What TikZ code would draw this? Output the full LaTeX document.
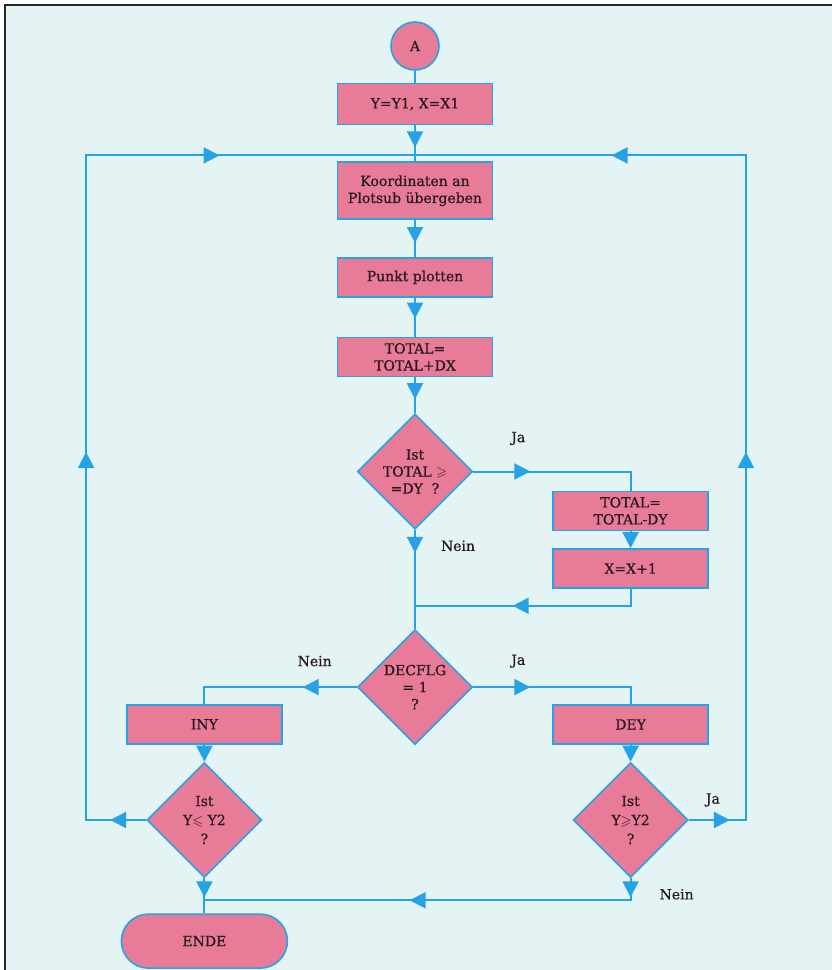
\documentclass[tikz,border=0pt]{standalone}
\usepackage{amsmath,amssymb}
\usepackage{fontspec}
\setmainfont{DejaVu Serif}[FakeBold=0.6]
\usetikzlibrary{arrows.meta,positioning,calc,shapes.geometric,decorations.markings}

\definecolor{paper}{RGB}{228,243,244}
\definecolor{flowblue}{RGB}{38,163,230}
\definecolor{boxpink}{RGB}{232,124,152}
\definecolor{ink}{RGB}{40,25,30}

\begin{document}
\begin{tikzpicture}[
  x=1pt, y=1pt,
  font=\fontsize{14}{17}\selectfont,
  text=ink,
  node distance=36pt,
  box/.style={draw=flowblue, line width=1.6pt, fill=boxpink, align=center, minimum width=155pt, minimum height=39pt, inner sep=2pt},
  test/.style={diamond, draw=flowblue, line width=1.6pt, fill=boxpink, align=center, minimum width=115pt, minimum height=115pt, inner sep=0pt},
  start/.style={circle, draw=flowblue, line width=1.6pt, fill=boxpink, minimum size=48pt, inner sep=0pt},
  term/.style={draw=flowblue, line width=1.6pt, fill=boxpink, rounded corners=27pt, minimum width=166pt, minimum height=54pt},
  line/.style={draw=flowblue, line width=2pt},
  flow/.style={line, postaction={decorate, decoration={markings, mark=at position #1 with {\arrow[flowblue]{Triangle[length=16pt,width=16pt]}}}}},
  endarrow/.style={line, -{Triangle[length=16pt,width=16pt]}},
  lbl/.style={inner sep=1pt}
]
\useasboundingbox (0,0) rectangle (832,-970);
\fill[white] (0,0) rectangle (832,-970);
\fill[paper] (5,-5) rectangle (832,-970);
\draw[black!85, line width=2pt] (5,-970) -- (5,-5) -- (832,-5);

% main column
\node[start] (A) at (415,-46) {A};
\node[box, below=12pt of A, minimum height=41pt] (init) {Y=Y1, X=X1};
\node[box, below=36pt of init, minimum height=57pt] (pass) {Koordinaten an\\Plotsub übergeben};
\node[box, below=37pt of pass] (plot) {Punkt plotten};
\node[box, below=39pt of plot] (addx) {TOTAL=\\TOTAL+DX};
\node[test, below=36pt of addx] (cmp) {Ist\\TOTAL $\geqslant$\\=DY\ \ ?};
\node[box, below right=19pt and 79pt of cmp.east] (suby) {TOTAL=\\TOTAL-DY};
\node[box, below=17pt of suby] (incx) {X=X+1};
\node[test, below=99pt of cmp] (flag) {DECFLG\\= 1\\?};

% branches
\node[box, below left=17pt and 74pt of flag.west] (iny) {INY};
\node[box, below right=17pt and 79pt of flag.east] (dey) {DEY};
\node[test, below=17pt of iny] (lo) {Ist\\[2pt]Y$\leqslant$ Y2\\[2pt]?};
\node[test, below=17pt of dey] (hi) {Ist\\[2pt]Y$\geqslant$Y2\\[2pt]?};
\node[term, below=35pt of lo] (ende) {ENDE};

% junctions and corners
\coordinate[below=30pt of init] (jtop);
\coordinate[below=76pt of cmp] (jmid);
\coordinate[below=22pt of lo] (jbot);
\coordinate[left=60pt of lo] (lbot);
\coordinate[right=57pt of hi] (rbot);
\coordinate (ltop) at (lbot |- jtop);
\coordinate (rtop) at (rbot |- jtop);

\draw[line] (A) -- (init);
\draw[flow=22pt] (init) -- (pass);
\draw[flow=23pt] (pass) -- (plot);
\draw[flow=21pt] (plot) -- (addx);
\draw[flow=22pt] (addx) -- (cmp);
\draw[flow=57pt] (cmp.east) -| (suby);
\draw[endarrow] (suby) -- (incx);
\draw[flow=135pt] (incx) |- (jmid);
\draw[flow=23pt] (cmp) -- (flag);
\draw[flow=54pt] (flag.west) -| (iny);
\draw[flow=57pt] (flag.east) -| (dey);
\draw[endarrow] (iny) -- (lo);
\draw[endarrow] (dey) -- (hi);
\draw[flow=19pt] (lo) -- (ende);
\draw[flow=19pt, flow=243pt] (hi.south) |- (jbot);
\draw[flow=36pt, flow=428pt, flow=858pt] (lo.west) -- (lbot) -- (ltop) -- (jtop);
\draw[flow=41pt, flow=425pt, flow=856pt] (hi.east) -- (rbot) -- (rtop) -- (jtop);

% labels
\node[lbl] (ja1) at ($(cmp.east)+(45,33)$) {Ja};
\node[lbl] (nein1) at ($(cmp.south)+(43,-16)$) {Nein};
\node[lbl] (nein2) at ($(flag.west)+(-42,26)$) {Nein};
\node[lbl] (ja2) at ($(flag.east)+(45,26)$) {Ja};
\node[lbl] (ja3) at ($(hi.east)+(24,20)$) {Ja};
\node[lbl] (nein3) at ($(hi.south)+(46,-16)$) {Nein};
\end{tikzpicture}
\end{document}
